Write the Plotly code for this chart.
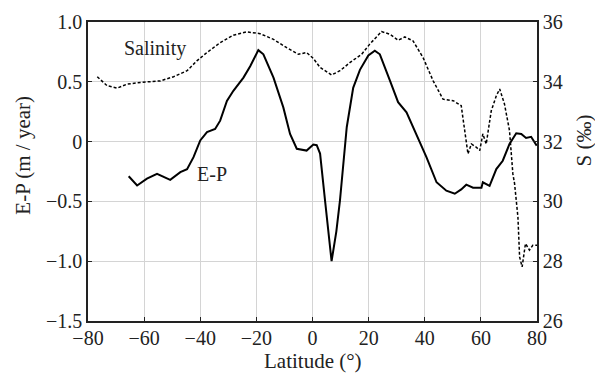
import plotly.graph_objects as go

# E-P (m/year) vs latitude
ep_lat = [-65.5, -62.5, -59, -55.4, -50.7, -47.1, -44.7, -42.4, -40, -37.6, -34.7, -32.9,
          -30.5, -28.2, -24.6, -22.2, -19.3, -17.5, -13.9, -10.4, -8, -5.6, -2.1, 0.3, 1.5,
          2.7, 4.5, 6.8, 8.5, 9.8, 12.2, 14.5, 16.9, 19.9, 22.2, 24, 27.6, 30.5, 33.5, 37,
          40.6, 44.2, 47.7, 50.7, 53, 54.8, 57.2, 60.2, 60.7, 63.1, 65.5, 67.8, 70.2, 72.6,
          74.4, 76.1, 77.9, 79.9]
ep_val = [-0.29, -0.367, -0.31, -0.27, -0.32, -0.255, -0.23, -0.13, 0.01, 0.08, 0.105, 0.175,
          0.34, 0.425, 0.535, 0.63, 0.765, 0.73, 0.535, 0.286, 0.064, -0.06, -0.075, -0.025, -0.03,
          -0.1, -0.5, -1.0, -0.75, -0.49, 0.12, 0.45, 0.6, 0.72, 0.76, 0.73, 0.51, 0.33, 0.245, 0.064,
          -0.13, -0.34, -0.41, -0.436, -0.40, -0.36, -0.386, -0.386, -0.34, -0.37, -0.23, -0.16,
          -0.02, 0.07, 0.064, 0.03, 0.04, -0.035]

# Salinity (permil) vs latitude
s_lat = [-76.7, -73.2, -69.6, -66.1, -61.3, -54.2, -49.5, -44.7, -41.2, -37.6, -32.9, -28.2,
         -23.4, -18.7, -13.9, -9.2, -5, -2.1, 0.3, 2.7, 6.8, 9.8, 13.3, 17.5, 20.4, 24.6, 27.6,
         30.5, 32.9, 35.8, 39.4, 43, 46.5, 50.1, 53, 54.2, 55.4, 56.6, 58.4, 59.6, 60.7, 61.9,
         63.7, 65.5, 66.7, 68.4, 70.2, 71.4, 72, 73.2, 73.8, 74.7, 75.9, 77.3, 78.5, 80.3]
s_val = [34.17, 33.87, 33.79, 33.92, 33.98, 34.03, 34.17, 34.37, 34.7, 34.98, 35.31, 35.56,
         35.67, 35.61, 35.42, 35.14, 34.92, 34.98, 34.78, 34.48, 34.23, 34.37, 34.64, 34.92, 35.26,
         35.68, 35.59, 35.39, 35.5, 35.37, 34.81, 34.03, 33.42, 33.37, 33.2, 32.37, 31.59, 31.92,
         31.81, 31.7, 32.26, 31.92, 33.03, 33.53, 33.76, 33.26, 32.37, 30.92, 30.6, 29.48, 28.14,
         27.81, 28.59, 28.37, 28.53, 28.53]

x_ticks = [-80, -60, -40, -20, 0, 20, 40, 60, 80]
x_ticktext = ["\u221280", "\u221260", "\u221240", "\u221220", "0", "20", "40", "60", "80"]
y_ticks = [1.0, 0.5, 0, -0.5, -1.0, -1.5]
y_ticktext = ["1.0", "0.5", "0", "\u22120.5", "\u22121.0", "\u22121.5"]
y2_ticks = [26, 28, 30, 32, 34, 36]

FONT = "Liberation Serif, 'Times New Roman', Times, 'DejaVu Serif', serif"
FS = 20
TXT = "#222"
fig = go.Figure()
fig.add_trace(go.Scatter(x=ep_lat, y=ep_val, mode="lines", line=dict(color="black", width=2),
                         showlegend=False))
fig.add_trace(go.Scatter(x=s_lat, y=s_val, mode="lines", yaxis="y2",
                         line=dict(color="black", width=1.5, dash="3px,2px"), showlegend=False))

axis_common = dict(showline=True, linecolor="#222", linewidth=1.5, ticks="inside", ticklen=4,
                   tickcolor="#222", tickfont=dict(family=FONT, size=FS, color=TXT),
                   zeroline=False, automargin=False)
fig.update_layout(
    width=595, height=367,
    margin=dict(l=79.5, r=65.5, t=14, b=54),
    paper_bgcolor="white", plot_bgcolor="white",
    font=dict(family=FONT, size=FS, color=TXT),
    xaxis=dict(range=[-80, 80], tickvals=x_ticks, ticktext=x_ticktext, mirror=True,
               showgrid=True, gridcolor="#d4d4d4", gridwidth=1, ticklabelstandoff=-2,
               **axis_common),
    yaxis=dict(range=[-1.5, 1.0], tickvals=y_ticks, ticktext=y_ticktext,
               showgrid=True, gridcolor="#d4d4d4", gridwidth=1, **axis_common),
    yaxis2=dict(range=[26, 36], tickvals=y2_ticks, overlaying="y", side="right",
                showgrid=False, **axis_common),
    annotations=[
        dict(text="Salinity", x=-56, y=0.775, xref="x", yref="y", showarrow=False,
             xanchor="center", yanchor="middle", font=dict(family=FONT, size=20, color=TXT)),
        dict(text="E-P", x=-35.7, y=-0.267, xref="x", yref="y", showarrow=False,
             xanchor="center", yanchor="middle", font=dict(family=FONT, size=20, color=TXT)),
        dict(text="Latitude (\u00b0)", x=0.5, y=-0.133, xref="paper", yref="paper",
             xanchor="center", yanchor="middle", showarrow=False,
             font=dict(family=FONT, size=21, color=TXT)),
        dict(text="E-P (m / year)", x=-0.1456, y=0.555, xref="paper", yref="paper",
             textangle=-90, xanchor="center", yanchor="middle", showarrow=False,
             font=dict(family=FONT, size=21, color=TXT)),
        dict(text="S (\u2030)", x=1.1056, y=0.605, xref="paper", yref="paper",
             textangle=-90, xanchor="center", yanchor="middle", showarrow=False,
             font=dict(family=FONT, size=21, color=TXT)),
    ],
)
fig.write_html("out.html")
